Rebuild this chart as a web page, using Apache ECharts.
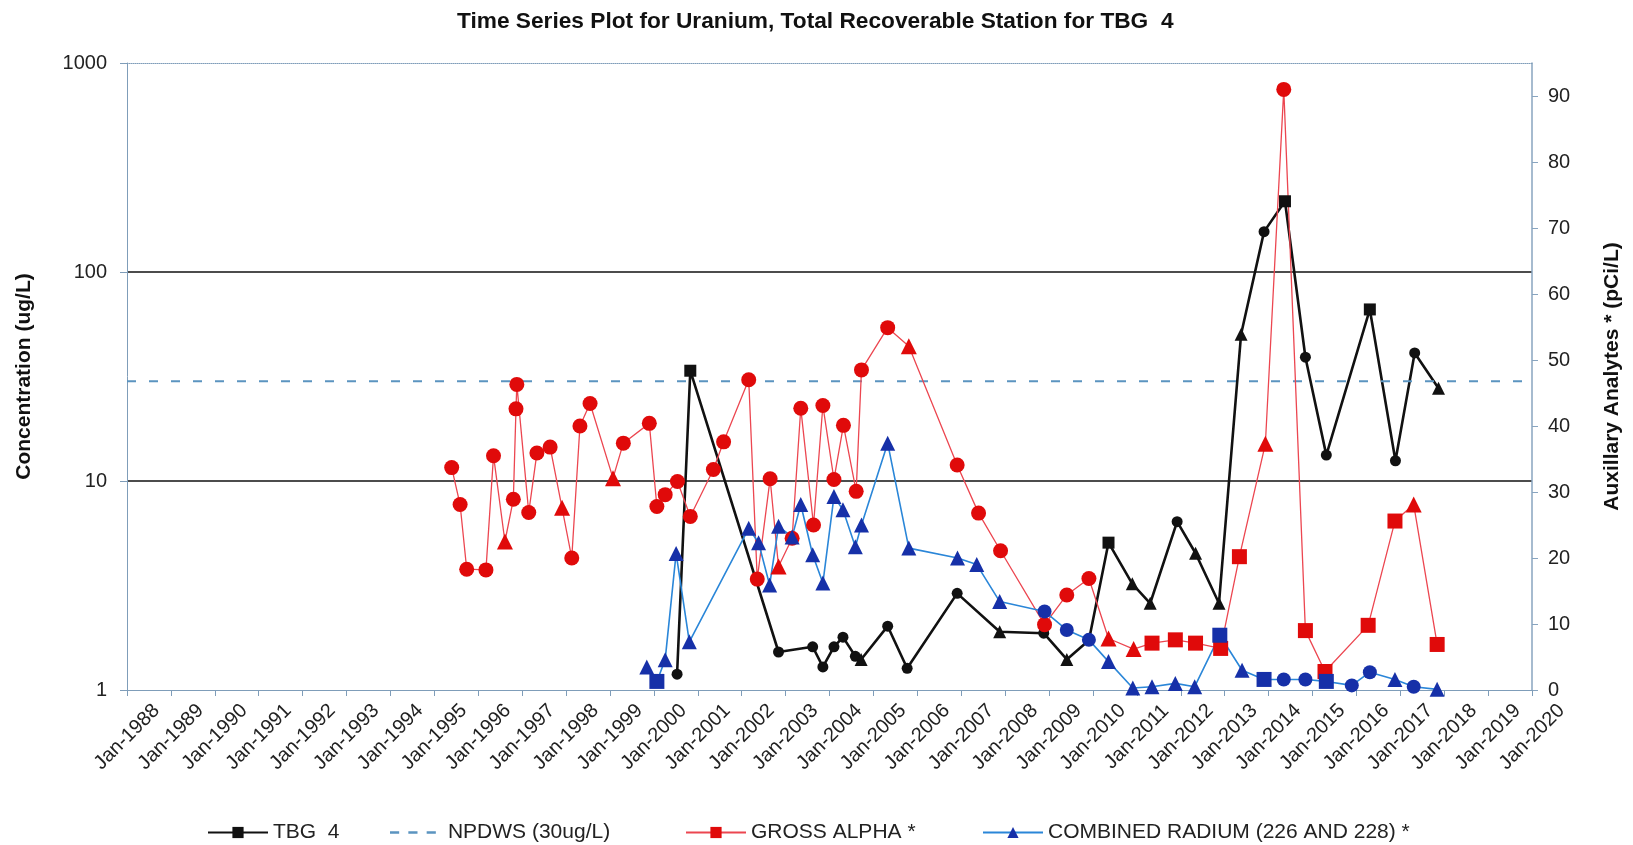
<!DOCTYPE html>
<html>
<head>
<meta charset="utf-8">
<title>Uranium time series - TBG 4</title>
<script src="https://cdn.jsdelivr.net/npm/echarts@6/dist/echarts.min.js"></script>
<style>
  html, body { margin: 0; padding: 0; background: #fff; }
  #chart { width: 1633px; height: 845px; }
</style>
</head>
<body>
<div id="chart"></div>
<script>
// uranium at TBG 4 (ug/L, left log axis)
const tbgDates = ['2000-07-12', '2000-10-30', '2002-11-03', '2003-08-14', '2003-11-07', '2004-02-07',
  '2004-04-22', '2004-08-03', '2004-09-20', '2005-04-29', '2005-10-08', '2006-11-28', '2007-11-17',
  '2008-11-17', '2009-05-28', '2009-11-28', '2010-05-10', '2010-11-24', '2011-04-22', '2011-12-02',
  '2012-05-03', '2012-11-14', '2013-05-17', '2013-11-24', '2014-05-17', '2014-11-03', '2015-04-26',
  '2016-04-22', '2016-11-21', '2017-04-30', '2017-11-14'];
const tbgValues = [1.19, 33.7, 1.52, 1.61, 1.29, 1.61, 1.79, 1.45, 1.40, 2.02, 1.27, 2.90, 1.90,
  1.87, 1.40, 1.73, 5.07, 3.22, 2.60, 6.39, 4.51, 2.60, 50.4, 156, 218, 39.1, 13.3, 66.2, 12.5, 41, 27.8];
// marker per sample: o = circle, s = square, ^ = triangle
const tbgMarks = 'osoooooo^ooo^o^os^^o^^^osoosoo^o'.split('').slice(0, 31);

// gross alpha (pCi/L, right axis)
const gaDates = ['1995-05-25', '1995-08-03', '1995-09-27', '1996-03-05', '1996-05-07', '1996-08-10',
  '1996-10-19', '1996-11-10', '1996-11-17', '1997-02-24', '1997-05-03', '1997-08-21', '1997-11-28',
  '1998-02-17', '1998-04-26', '1998-07-19', '1999-01-26', '1999-04-22', '1999-11-24', '2000-01-26',
  '2000-04-04', '2000-07-15', '2000-10-30', '2001-05-10', '2001-08-03', '2002-02-28', '2002-05-10',
  '2002-08-25', '2002-11-03', '2003-02-24', '2003-05-07', '2003-08-21', '2003-11-07', '2004-02-07',
  '2004-04-26', '2004-08-10', '2004-09-23', '2005-04-29', '2005-10-22', '2006-11-28', '2007-05-25',
  '2007-11-24', '2008-11-24', '2009-05-28', '2009-11-28', '2010-05-10', '2010-12-05', '2011-05-07',
  '2011-11-17', '2012-05-03', '2012-11-28', '2013-05-03', '2013-12-05', '2014-05-07', '2014-11-03',
  '2015-04-15', '2016-04-08', '2016-11-17', '2017-04-22', '2017-11-03'];
const gaValues = [33.7, 28.1, 18.3, 18.2, 35.5, 22.5, 28.9, 42.6, 46.3, 26.9,
  35.9, 36.8, 27.6, 20.0, 40.0, 43.4, 32.1, 37.4, 40.4, 27.8,
  29.6, 31.6, 26.3, 33.4, 37.6, 47.0, 16.8, 32.0, 18.7, 23.0,
  42.7, 25.0, 43.1, 31.9, 40.1, 30.1, 48.5, 54.9, 52.1, 34.1,
  26.8, 21.1, 9.9, 14.4, 16.9, 7.8, 6.2, 7.1, 7.6, 7.1,
  6.3, 20.2, 37.3, 91.0, 9.0, 2.8, 9.8, 25.6, 28.1, 6.9];
const gaMarks = 'ooooo^oooooo^ooo^ooooooooooo^ooooooooo^oooooo^^sssss^ossss^s'.split('');

// combined radium 226 + 228 (pCi/L, right axis)
const raDates = ['1999-11-03', '2000-01-26', '2000-04-04', '2000-07-04', '2000-10-22', '2002-02-28',
  '2002-05-21', '2002-08-21', '2002-11-03', '2003-02-24', '2003-05-07', '2003-08-14', '2003-11-07',
  '2004-02-07', '2004-04-22', '2004-08-03', '2004-09-23', '2005-04-29', '2005-10-22', '2006-12-01',
  '2007-05-10', '2007-11-17', '2008-11-24', '2009-05-28', '2009-11-28', '2010-05-10', '2010-11-28',
  '2011-05-07', '2011-11-17', '2012-04-26', '2012-11-21', '2013-05-25', '2013-11-24', '2014-05-07',
  '2014-11-03', '2015-04-26', '2015-11-24', '2016-04-22', '2016-11-17', '2017-04-22', '2017-11-03'];
const raValues = [3.5, 1.3, 4.6, 20.7, 7.3, 24.5, 22.3, 15.9, 24.8, 23.2,
  28.1, 20.5, 16.2, 29.3, 27.3, 21.7, 25.0, 37.4, 21.5, 20.0,
  19.0, 13.4, 11.9, 9.1, 7.6, 4.3, 0.3, 0.5, 1.0, 0.5,
  8.3, 3.0, 1.6, 1.6, 1.6, 1.3, 0.7, 2.7, 1.6, 0.5, 0.1];
const raMarks = '^s^^^^^^^^^^^^^^^^^^^^ooo^^^^^s^soosoo^o^^'.split('');

const npdwsLimit = 30;
const yearTicks = [1988, 2020];

const FONT = '"Liberation Sans", Arial, sans-serif';
const SHAPES = { o: 'circle', s: 'rect', '^': 'triangle' };

function toYear(s) {
  const t = Date.parse(s);
  return 1988 + (t - Date.UTC(1988, 0, 1)) / (365.25 * 864e5);
}

function points(dates, values, marks, sizes) {
  return dates.map((d, i) => ({
    value: [toYear(d), values[i]],
    symbol: SHAPES[marks[i]],
    symbolSize: sizes[marks[i]]
  }));
}

function legendAt(item, left, h) {
  return {
    data: [item],
    left: left,
    top: 817,
    itemWidth: 60,
    itemHeight: h || 14,
    selectedMode: false,
    textStyle: { fontFamily: FONT, fontSize: 21, color: '#222' }
  };
}

const chart = echarts.init(document.getElementById('chart'), null, { renderer: 'canvas' });

chart.setOption({
  animation: false,
  backgroundColor: '#fff',
  title: {
    text: 'Time Series Plot for Uranium, Total Recoverable Station for TBG  4',
    left: 452,
    top: 5,
    textStyle: { fontFamily: FONT, fontSize: 22.7, fontWeight: 'bold', color: '#111' }
  },
  legend: [
    legendAt('TBG  4', 202),
    legendAt({ name: 'NPDWS (30ug/L)', icon: 'path://M0,0h11v3h-11zM22,0h11v3h-11zM44,0h11v3h-11z' }, 385, 2.5),
    legendAt('GROSS ALPHA *', 680),
    legendAt('COMBINED RADIUM (226 AND 228) *', 977)
  ],
  grid: { left: 127, right: 101, top: 63, bottom: 155 },
  xAxis: [{
    type: 'value',
    min: yearTicks[0],
    max: yearTicks[1],
    interval: 1,
    axisLine: { lineStyle: { color: '#7f9db9', width: 1 } },
    axisTick: { show: true, length: 6, lineStyle: { color: '#7f9db9' } },
    splitLine: { show: false },
    axisLabel: {
      rotate: 45,
      align: 'center',
      verticalAlign: 'middle',
      margin: 47,
      fontFamily: FONT,
      fontSize: 20,
      color: '#222',
      formatter: (v) => 'Jan-' + v
    }
  }, {
    type: 'value',
    position: 'top',
    min: yearTicks[0],
    max: yearTicks[1],
    axisLine: { lineStyle: { color: '#7f9db9', type: 'dotted' } },
    axisTick: { show: false },
    axisLabel: { show: false },
    splitLine: { show: false }
  }],
  yAxis: [{
    type: 'log',
    logBase: 10,
    min: 1,
    max: 1000,
    name: 'Concentration (ug/L)',
    nameLocation: 'middle',
    nameRotate: 90,
    nameGap: 92,
    nameTextStyle: { fontFamily: FONT, fontSize: 21, fontWeight: 'bold', color: '#111' },
    axisLine: { show: true, lineStyle: { color: '#7f9db9' } },
    axisTick: { show: true, length: 7, lineStyle: { color: '#7f9db9' } },
    axisLabel: {
      margin: 20, fontFamily: FONT, fontSize: 20, color: '#222',
      formatter: (v) => String(Math.round(v))
    },
    splitLine: { show: true, showMinLine: false, showMaxLine: false, lineStyle: { color: '#111', width: 1.5 } }
  }, {
    type: 'value',
    min: 0,
    max: 95,
    interval: 10,
    position: 'right',
    name: 'Auxillary Analytes * (pCi/L)',
    nameLocation: 'middle',
    nameRotate: 90,
    nameGap: 70,
    nameTextStyle: { fontFamily: FONT, fontSize: 21, fontWeight: 'bold', color: '#111' },
    axisLine: { show: true, lineStyle: { color: '#88a4bf', width: 1.5 } },
    axisTick: { show: true, length: 6, lineStyle: { color: '#88a4bf' } },
    axisLabel: { margin: 16, fontFamily: FONT, fontSize: 20, color: '#222', showMaxLabel: false },
    splitLine: { show: false }
  }],
  series: [{
    name: 'TBG  4',
    type: 'line',
    yAxisIndex: 0,
    symbol: 'rect',
    symbolSize: 12,
    color: '#111',
    lineStyle: { color: '#111', width: 2.6 },
    itemStyle: { color: '#111' },
    data: points(tbgDates, tbgValues, tbgMarks, { o: 11, s: 12, '^': 13 })
  }, {
    name: 'NPDWS (30ug/L)',
    type: 'line',
    yAxisIndex: 0,
    symbol: 'none',
    color: '#5b94c0',
    lineStyle: { color: '#5b94c0', width: 2, type: [9, 13] },
    itemStyle: { color: '#5b94c0' },
    data: [[yearTicks[0], npdwsLimit], [yearTicks[1], npdwsLimit]]
  }, {
    name: 'GROSS ALPHA *',
    type: 'line',
    yAxisIndex: 1,
    symbol: 'rect',
    symbolSize: 14,
    color: '#e00a0a',
    lineStyle: { color: '#ec4650', width: 1.3 },
    itemStyle: { color: '#e00a0a' },
    data: points(gaDates, gaValues, gaMarks, { o: 15, s: 15, '^': 16 })
  }, {
    name: 'COMBINED RADIUM (226 AND 228) *',
    type: 'line',
    yAxisIndex: 1,
    symbol: 'triangle',
    symbolSize: 14,
    color: '#1630a8',
    lineStyle: { color: '#2a86d8', width: 1.6 },
    itemStyle: { color: '#1630a8' },
    data: points(raDates, raValues, raMarks, { o: 14, s: 15, '^': 15 })
  }]
});

window.addEventListener('resize', () => chart.resize());
</script>
</body>
</html>
